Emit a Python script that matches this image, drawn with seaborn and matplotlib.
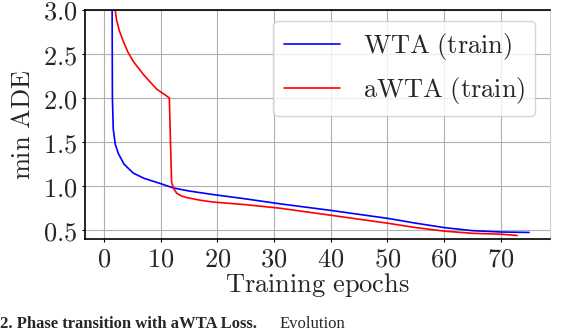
import matplotlib
matplotlib.use("Agg")
import matplotlib.pyplot as plt
import seaborn as sns
import pandas as pd

# values (epoch, min ADE)
wta_epoch = [1.3, 1.4, 1.45, 1.6, 1.94, 2.5, 3.5, 5.1, 7.0, 9.9, 12.2, 15.0, 19.2,
             24.5, 31.0, 40.0, 50.0, 55.0, 60.0, 65.0, 70.0, 75.0]
wta_ade = [4.5, 3.0, 2.0, 1.65, 1.48, 1.37, 1.25, 1.15, 1.09, 1.03, 0.98, 0.945, 0.905,
           0.86, 0.80, 0.725, 0.635, 0.58, 0.53, 0.495, 0.48, 0.475]

awta_epoch = [1.7, 1.94, 2.2, 2.7, 3.4, 4.2, 5.2, 6.9, 8.0, 9.3, 10.2, 11.1, 11.5, 11.7,
              11.9, 12.3, 12.8, 13.6, 14.6, 17.0, 19.2, 25.0, 31.0, 40.0, 50.0,
              55.0, 60.0, 65.0, 70.0, 72.9]
awta_ade = [4.0, 3.0, 2.88, 2.76, 2.64, 2.52, 2.41, 2.27, 2.19, 2.10, 2.06, 2.02, 2.0, 1.5,
            1.04, 0.97, 0.92, 0.89, 0.87, 0.84, 0.82, 0.79, 0.75, 0.67, 0.58,
            0.53, 0.49, 0.465, 0.455, 0.44]

x_ticks = [0, 10, 20, 30, 40, 50, 60, 70]
y_ticks = [0.5, 1.0, 1.5, 2.0, 2.5, 3.0]

df = pd.concat([
    pd.DataFrame({"epoch": wta_epoch, "ade": wta_ade, "model": "WTA (train)"}),
    pd.DataFrame({"epoch": awta_epoch, "ade": awta_ade, "model": "aWTA (train)"}),
])

sns.set_style("whitegrid")
plt.rcParams["mathtext.fontset"] = "cm"

fig = plt.figure(figsize=(5.7, 3.32), dpi=100)
ax = fig.add_axes([0.149, 0.28, 0.816, 0.69])

sns.lineplot(data=df, x="epoch", y="ade", hue="model", sort=False,
             palette={"WTA (train)": "blue", "aWTA (train)": "red"},
             linewidth=1.2, ax=ax)

ax.set_xlim(-3.4, 78.7)
ax.set_ylim(0.4, 3.0)
ax.set_xticks(x_ticks)
ax.set_xticklabels([f"${v}$" for v in x_ticks])
ax.set_yticks(y_ticks)
ax.set_yticklabels([f"${v:.1f}$" for v in y_ticks])
ax.grid(True, color="#b0b0b0", linewidth=0.8)
ax.tick_params(labelsize=19, length=2.5, width=0.8, color="black", pad=3,
               left=True, bottom=True)
ax.set_xlabel(r"$\mathrm{Training\ epochs}$", fontsize=19, labelpad=-1)
ax.set_ylabel(r"$\mathrm{min\ ADE}$", fontsize=19, labelpad=5)

for s in ["left", "bottom", "top"]:
    ax.spines[s].set_color("black")
    ax.spines[s].set_linewidth(1.2)
ax.spines["right"].set_color("#d0d0d0")
ax.spines["right"].set_linewidth(0.8)

handles, labels = ax.get_legend_handles_labels()
leg = ax.legend(handles, [r"$\mathrm{WTA\ (train)}$", r"$\mathrm{aWTA\ (train)}$"],
                loc="upper right", fontsize=19, handlelength=2.15, handletextpad=0.85,
                labelspacing=0.5, borderpad=0.38, frameon=True, framealpha=0.8,
                borderaxespad=0, bbox_to_anchor=(0.968, 0.952))
leg.get_frame().set_edgecolor("#cccccc")

# caption line of the paper figure, shrunk so it stays inside the picture
fig.text(0.0, 0.012, "2. Phase transition with aWTA Loss.", fontsize=12,
         family="Liberation Serif", weight="bold", va="baseline")
fig.text(0.49, 0.012, "Evolution", fontsize=12, family="Liberation Serif",
         va="baseline")

fig.savefig("out.png", dpi=100)
